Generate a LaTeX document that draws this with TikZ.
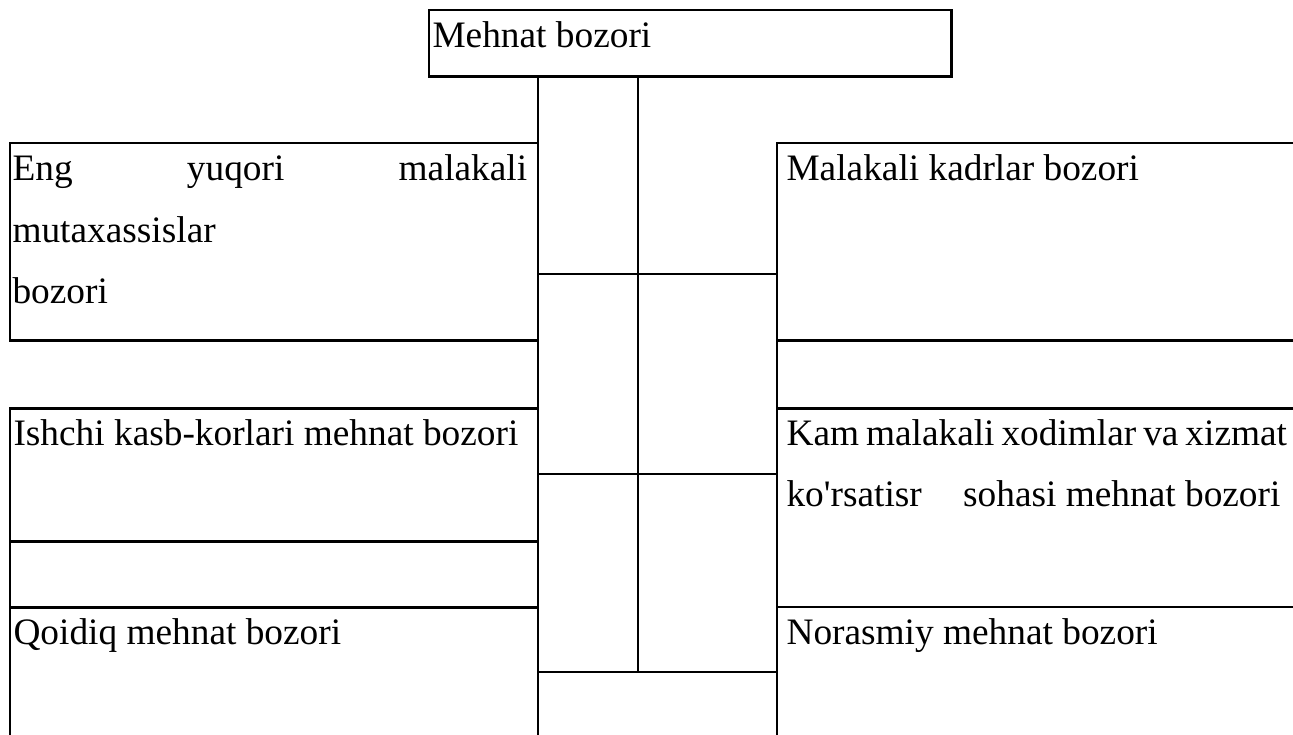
\documentclass[tikz,border=0pt]{standalone}
\usepackage{fontspec}
\setmainfont{Liberation Serif}
\usetikzlibrary{positioning}
\tikzstyle{cell} = [rectangle, draw=black, line width=1.1pt, anchor=north west, inner sep=0pt, outer sep=0pt]
\tikzstyle{celltext} = [anchor=base west, inner sep=0pt, align=flush left, font=\fontsize{14}{23}\selectfont]
\tikzstyle{line} = [draw=black, line width=1.1pt]

\begin{document}
\begin{tikzpicture}[x=0.375pt, y=-0.375pt]
   \useasboundingbox (0,0) rectangle (1293,734);
   \clip (0,0) rectangle (1293,734);
   % boxes
   \node (root) [cell, minimum width=196.1pt, minimum height=25.1pt] at (429,10) {};
   \node (leftA) [cell, minimum width=198pt, minimum height=73.9pt] at (10,143) {};
   \node (leftB) [cell, minimum width=198pt, minimum height=49.9pt, below right=25.5pt and 0pt of leftA.south west] {};
   \node (leftC) [cell, minimum width=198pt, minimum height=49.9pt, below right=24.75pt and 0pt of leftB.south west] {};
   \node (rightA) [cell, minimum width=196.1pt, minimum height=73.9pt] at (777,143) {};
   \node (rightB) [cell, minimum width=196.1pt, minimum height=74.6pt, below right=25.5pt and 0pt of rightA.south west] {};
   \node (rightC) [cell, minimum width=196.1pt, minimum height=49.9pt, below right=0pt and 0pt of rightB.south west] {};
   % texts
   \node (roottext) [celltext] at ([shift={(3,38)}]root.north west) {Mehnat bozori};
   \node (leftAtext) [celltext, align=left, text width=193pt] at ([shift={(2,38)}]leftA.north west) {Eng\hfill yuqori\hfill malakali\\mutaxassislar\\bozori};
   \node (leftBtext) [celltext] at ([shift={(3,37)}]leftB.north west) {Ishchi kasb-korlari mehnat bozori};
   \node (leftCtext) [celltext] at ([shift={(3,37)}]leftC.north west) {Qoidiq mehnat bozori};
   \node (rightAtext) [celltext] at ([shift={(9,38)}]rightA.north west) {Malakali kadrlar bozori};
   \node (rightBtext) [celltext, text width=200pt] at ([shift={(9,37)}]rightB.north west) {{\spaceskip=2.6pt\relax Kam malakali xodimlar va xizmat}\\ko\textquotesingle rsatisr\hspace{12pt} sohasi mehnat bozori};
   \node (rightCtext) [celltext] at ([shift={(9,37)}]rightC.north west) {Norasmiy mehnat bozori};
   % middle grid
   \coordinate (split) at (638,77);
   \coordinate (row1) at (538,274);
   \coordinate (row2) at (538,474);
   \coordinate (row3) at (538,672);
   \draw [line] (root.south -| leftA.east) -- (leftC.south east);
   \draw [line] (split) -- (split |- row3);
   \draw [line] (row1) -- (row1 -| rightA.west);
   \draw [line] (row2) -- (row2 -| rightA.west);
   \draw [line] (row3) -- (row3 -| rightA.west);
   \draw [line] (rightA.south west) -- (rightB.north west);
   \draw [line] (leftB.south west) -- (leftC.north west);
  \end{tikzpicture}
\end{document}
